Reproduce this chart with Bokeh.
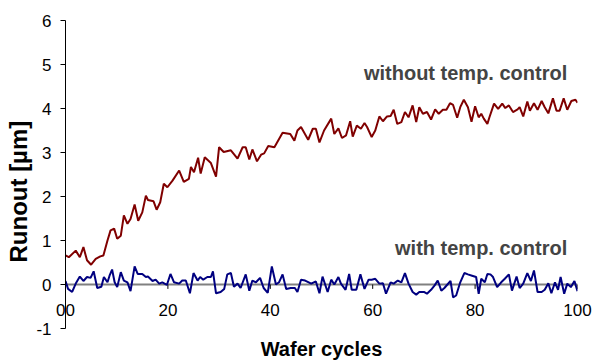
from bokeh.plotting import figure
from bokeh.models import Range1d, FixedTicker, Span, Label, Title
from bokeh.embed import file_html
from bokeh.resources import INLINE

# ---- data ----
cycles_without = [0, 0.65, 2, 2.8, 3.5, 4.2, 5, 5.9, 6.8, 7.4, 8.2, 8.8, 9.5, 10.1, 10.8, 11.4, 12.1, 12.7,
                  13.5, 14.2, 15, 15.7, 16.1, 17.2, 17.8, 18.5, 19.2, 19.9, 20.9, 22.2, 23.1, 24.1, 24.5,
                  25.1, 25.9, 26.4, 27.2, 28.4, 29.4, 30, 30.9, 32.3,
                  33.6, 34.6, 35.2, 35.9, 36.5, 37.4, 38.2, 38.8, 39.6, 40.8, 42.4, 43.9, 44.7, 45.3, 46,
                  47.4, 48.3, 48.9, 49.6, 50.5, 51.9, 52.5, 53.3, 54, 54.8, 55.6, 56.1, 56.9, 57.7, 58.4,
                  58.9, 59.8, 60.5, 61.3, 62, 62.8, 63.5, 64.1, 64.8,
                  65.6, 66.3, 67, 67.8, 68.5, 69.1, 69.8, 70.6, 71.4, 72.2, 72.9, 73.7, 74.4, 75.1, 75.7,
                  76.5, 77.1, 77.8, 78.6, 79.3, 80, 80.7, 81.2, 81.7, 82.4, 82.8, 83.7, 84.5, 85.3, 85.9,
                  86.6, 87.4, 88.3, 88.7, 89.4, 90.2, 90.7, 91.5, 92.2, 93, 93.6, 94.3, 95.2, 95.9, 96.5,
                  97.3, 98, 98.8, 99.6, 100]
runout_without = [0.66, 0.62, 0.77, 0.62, 0.85, 0.55, 0.45, 0.58, 0.64, 0.66, 1.0, 1.23, 1.27, 1.04, 1.11,
                  1.57, 1.38, 1.49, 1.82, 1.45, 1.64, 2.02, 1.92, 1.89, 1.70, 1.87, 2.29, 2.21, 2.36, 2.59,
                  2.33, 2.40, 2.67, 2.55, 2.88, 2.52, 2.89, 2.76, 2.45, 3.12, 3.01, 3.05,
                  2.86, 3.12, 3.12, 2.84, 3.07, 2.80, 2.95, 2.98, 3.15, 3.12, 3.45, 3.42, 3.27, 3.5, 3.58,
                  3.29, 3.54, 3.54, 3.23, 3.5, 3.77, 3.42, 3.55, 3.33, 3.39, 3.71, 3.36, 3.61, 3.54, 3.67,
                  3.58, 3.35, 3.5, 3.82, 3.71, 3.82, 3.83, 3.97, 3.65,
                  3.69, 3.92, 3.80, 4.07, 3.69, 4.03, 3.88, 3.92, 3.75, 3.98, 3.88, 3.97, 3.97, 4.12, 4.08,
                  3.79, 4.03, 4.2, 4.03, 3.70, 4.05, 3.80, 3.88, 3.77, 3.65, 3.80, 4.11, 3.99, 4.11, 4.01,
                  4.07, 3.92, 3.98, 4.03, 3.82, 4.16, 3.95, 4.12, 3.97, 4.17, 4.03, 3.89, 4.23, 3.95, 3.95,
                  4.23, 3.97, 4.17, 4.2, 4.13]

cycles_with = [0, 0.5, 1.3, 2, 2.8, 3.5, 4.2, 4.9, 5.5, 6.2, 7, 7.5, 8.2, 8.6, 9.1, 9.6, 10.1, 10.8, 11.4,
               12.1, 12.7, 13.5, 14.1, 15, 15.7, 16.1, 17, 17.6, 18.3, 18.9, 19.8, 20.5, 21.2, 22.2, 22.8,
               23.5, 24.3, 25, 25.8, 26.3, 26.9, 27.7, 28.4, 28.8, 29.4, 30.3, 31, 31.6, 32.3,
               32.9, 33.6, 34.2, 35.2, 35.9, 36.5, 37.2, 38, 38.7, 39.5, 40.3, 41.1, 41.7, 42.4, 43.1, 44,
               44.8, 45.3, 46, 46.8, 48, 48.9, 49.6, 50.2, 51.2, 51.9, 52.5, 53.3, 53.8, 54.7, 55.4, 55.9,
               56.8, 57.6, 58.4, 59.2, 59.8, 60.5, 61.3, 62, 62.6, 63.5, 64.1, 64.9,
               65.6, 66.3, 67, 67.8, 68.5, 69.1, 70, 70.6, 71.4, 72.1, 72.7, 73.4, 74, 75.2, 75.7, 76.3,
               77.1, 77.9, 78.6, 79.4, 80.2, 80.7, 81.2, 81.9, 82.4, 83, 83.5, 84.3, 85.1, 85.8, 86.6, 87.2,
               88.1, 88.7, 89.4, 90.2, 90.9, 91.5, 92.2, 93, 93.6, 94.3, 94.9, 95.6, 96.2, 96.7, 97.4, 98,
               98.7, 99.4, 100]
runout_with = [0.08, -0.10, -0.17, 0.02, 0.18, 0.08, 0.17, 0.15, 0.30, -0.08, -0.05, 0.17, 0.05, 0.20, 0.34,
               0.05, -0.06, 0.28, 0.09, 0.05, -0.15, 0.41, 0.24, 0.24, 0.17, 0.18, 0.08, 0.11, 0.02, 0.05,
               -0.01, 0.24, 0.05, 0.02, 0.09, 0.09, -0.20, 0.26, 0.09, 0.17, 0.11, 0.17, 0.17, 0.30, -0.20,
               -0.17, -0.10, 0.23, 0.26,
               -0.05, 0.02, -0.08, 0.23, -0.14, 0.09, 0.05, 0.15, -0.08, -0.19, 0.41, 0.0, 0.05, 0.23, -0.10,
               -0.08, -0.08, -0.17, 0.11, 0.09, 0.02, 0.07, -0.20, 0.18, -0.17, 0.11, 0.0, 0.17, 0.02, -0.12,
               0.24, -0.12, -0.12, 0.23, -0.10, 0.11, 0.11, 0.13, 0.02, 0.03, -0.21, 0.05, 0.02, 0.09,
               0.05, 0.26, 0.02, -0.17, -0.23, -0.17, -0.17, -0.21, -0.12, -0.02, 0.09, -0.14, -0.08, 0.08,
               -0.29, -0.25, 0.05, 0.26, 0.23, 0.20, 0.17, -0.21, 0.13, 0.05, 0.24, 0.23, 0.17, -0.06, 0.05,
               0.13, 0.23, -0.14, 0.18, -0.08, 0.02, 0.26, 0.08, 0.32, -0.17, -0.17, -0.12, 0.03, -0.20,
               0.05, -0.12, 0.17, -0.21, 0.02, -0.06, 0.08, -0.15]

series_labels = ["without temp. control", "with temp. control"]
y_ticks = [-1, 0, 1, 2, 3, 4, 5, 6]
y_tick_labels = ["-1", "0", "1", "2", "3", "4", "5", "6"]
x_ticks = [0, 20, 40, 60, 80, 100]
x_tick_labels = ["00", "20", "40", "60", "80", "100"]
x_title = "Wafer cycles"
y_title = "Runout [µm]"

FONT = "Liberation Sans"
RED = "#800000"
BLUE = "#000080"

p = figure(width=594, height=363, output_backend="svg", toolbar_location=None,
           x_range=Range1d(0, 100), y_range=Range1d(-1, 6),
           min_border_left=65, min_border_right=17, min_border_top=20, min_border_bottom=35)
p.grid.visible = False
p.outline_line_color = None
p.background_fill_color = "white"
p.border_fill_color = "white"

# y axis
ya = p.yaxis[0]
ya.ticker = FixedTicker(ticks=y_ticks)
ya.major_label_overrides = {t: l for t, l in zip(y_ticks, y_tick_labels)}
ya.major_tick_in = 0
ya.major_tick_out = 5
ya.minor_tick_in = 0
ya.minor_tick_out = 0
ya.major_label_standoff = 9
ya.major_label_text_font = FONT
ya.major_label_text_font_size = "17px"
ya.major_label_text_color = "black"
ya.axis_line_color = "black"
ya.major_tick_line_color = "black"

# x axis: labels sit just above the bottom of the frame, title below
xa = p.xaxis[0]
xa.ticker = FixedTicker(ticks=x_ticks)
xa.major_label_overrides = {t: l for t, l in zip(x_ticks, x_tick_labels)}
xa.axis_line_color = None
xa.major_tick_line_color = None
xa.minor_tick_line_color = None
xa.major_tick_in = 0
xa.major_tick_out = 0
xa.minor_tick_in = 0
xa.minor_tick_out = 0
xa.major_label_standoff = -25
xa.major_label_text_font = FONT
xa.major_label_text_font_size = "17px"
xa.major_label_text_color = "black"
xa.axis_label = x_title
xa.axis_label_text_font = FONT
xa.axis_label_text_font_size = "20px"
xa.axis_label_text_font_style = "bold"
xa.axis_label_text_color = "black"
xa.axis_label_standoff = 19

# horizontal axis line crossing at y = 0, with its tick marks
zero = Span(location=0, dimension="width", line_color="#808080", line_width=2, level="underlay")
p.add_layout(zero)
p.segment(x0=x_ticks[1:], y0=0, x1=x_ticks[1:], y1=-0.1, line_color="black", line_width=1)

p.line(cycles_without, runout_without, line_color=RED, line_width=2)
p.line(cycles_with, runout_with, line_color=BLUE, line_width=2)

p.add_layout(Label(x=98.0, y=4.8, text=series_labels[0], text_font=FONT, text_font_size="20px",
                   text_font_style="bold", text_align="right", text_baseline="middle"))
p.add_layout(Label(x=98.0, y=0.84, text=series_labels[1], text_font=FONT, text_font_size="20px",
                   text_font_style="bold", text_align="right", text_baseline="middle"))

ytitle = Title(text=y_title, align="left", offset=66, standoff=4, text_font=FONT,
               text_font_size="24px", text_font_style="bold", text_color="black")
p.add_layout(ytitle, "left")

open("out.html", "w").write(file_html(p, INLINE))
